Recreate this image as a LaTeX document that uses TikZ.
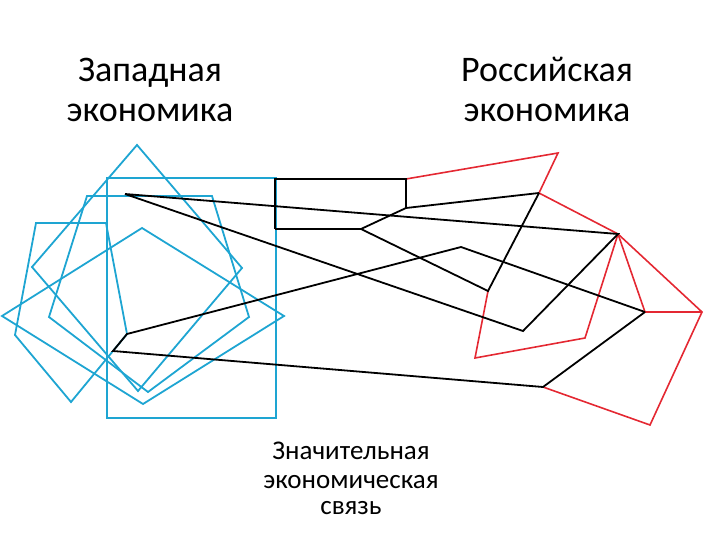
\documentclass[tikz,border=0pt]{standalone}
\usepackage{fontspec}
\setmainfont{Carlito}
\begin{document}
\begin{tikzpicture}[x=1pt,y=-1pt,
  blueline/.style={draw={rgb,255:red,30;green,165;blue,210}, line width=1.8pt, line join=miter},
  blackline/.style={draw=black, line width=1.8pt},
  redline/.style={draw={rgb,255:red,228;green,40;blue,50}, line width=1.6pt},
  bigtext/.style={font=\fontsize{36}{40}\selectfont, anchor=base, inner sep=0pt},
  smalltext/.style={font=\fontsize{27}{28}\selectfont, anchor=base, inner sep=0pt}]
\useasboundingbox (0,0) rectangle (720,540);
% labels
\node[bigtext] (w1) at (150,82) {Западная};
\node[bigtext] (w2) at (150,122) {экономика};
\node[bigtext] (r1) at (547,82) {Российская};
\node[bigtext] (r2) at (547,122) {экономика};
\node[smalltext] (s1) at (351,459) {Значительная};
\node[smalltext] (s2) at (351,488) {экономическая};
\node[smalltext] (s3) at (351,514) {связь};
% western economy (blue shapes)
\draw[blueline] (107,178) rectangle (276,418);
\draw[blueline] (137,145) -- (242,268) -- (138,391) -- (32,267) -- cycle;
\draw[blueline] (87,196) -- (212,196) -- (249,317) -- (148,392) -- (49,317) -- cycle;
\draw[blueline] (36,223) -- (106,223) -- (127,334) -- (71,402) -- (15,335) -- cycle;
\draw[blueline] (2,316) -- (142,228) -- (284,316) -- (143,404) -- cycle;
% points
\coordinate (a1) at (275,179);
\coordinate (a2) at (406,179);
\coordinate (a3) at (406,208);
\coordinate (a4) at (275,229);
\coordinate (a5) at (361,229);
\coordinate (b1) at (539,193);
\coordinate (b2) at (488,291);
\coordinate (c1) at (125,194);
\coordinate (c2) at (618,234);
\coordinate (c3) at (523,331);
\coordinate (d1) at (127,334);
\coordinate (d2) at (461,247);
\coordinate (d3) at (645,312);
\coordinate (e1) at (113,351);
\coordinate (e2) at (543,387);
\coordinate (r1p) at (558,153);
\coordinate (r2p) at (702,312);
\coordinate (r3p) at (585,338);
\coordinate (r4p) at (475,358);
\coordinate (r5p) at (650,425);
% russian economy (red)
\draw[redline] (a2) -- (r1p) -- (b1) -- (c2) -- (r2p) -- (r5p) -- (e2);
\draw[redline] (c2) -- (d3) -- (r2p);
\draw[redline] (c2) -- (r3p) -- (r4p) -- (b2);
% connections (black)
\draw[blackline] (a4) -- (a1) -- (a2) -- (a3) -- (b1);
\draw[blackline] (a4) -- (a5) -- (a3);
\draw[blackline] (a5) -- (b2) -- (b1);
\draw[blackline] (c1) -- (c2) -- (c3) -- (c1);
\draw[blackline] (d3) -- (d2) -- (d1) -- (e1) -- (e2) -- (d3);
\end{tikzpicture}
\end{document}
